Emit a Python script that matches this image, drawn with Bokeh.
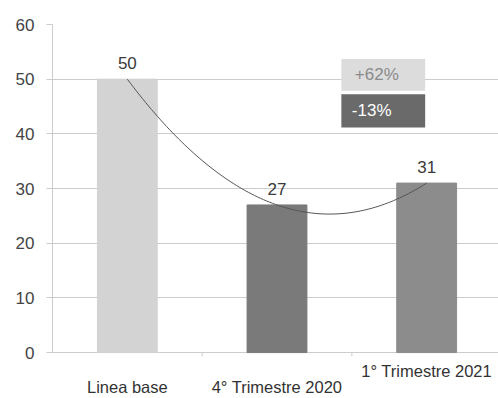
import numpy as np
from bokeh.plotting import figure
from bokeh.models import ColumnDataSource, Range1d, FixedTicker
from bokeh.core.properties import value
from bokeh.embed import file_html
from bokeh.resources import INLINE

categories = ["Linea base", "4° Trimestre 2020", "1° Trimestre 2021"]
values = [50, 27, 31]
bar_colors = ["#d3d3d3", "#7a7a7a", "#8c8c8c"]
y_ticks = [0, 10, 20, 30, 40, 50, 60]
change_labels = ["+62%", "-13%"]

FONT = "Liberation Sans"
xs = list(range(len(categories)))

p = figure(width=498, height=398, output_backend="svg", toolbar_location=None,
           x_range=Range1d(-0.5, 2.48), y_range=Range1d(-8.4, 60),
           x_axis_location=None,
           min_border_left=52, min_border_right=0, min_border_top=24,
           min_border_bottom=0)
p.outline_line_color = None
p.background_fill_color = "white"
p.border_fill_color = "white"

src = ColumnDataSource(dict(x=xs, top=values, color=bar_colors,
                            label=[str(v) for v in values]))
p.vbar(x="x", top="top", bottom=0, width=0.4, color="color", source=src)

# polynomial trend line through the values
coef = np.polyfit(xs, values, 2)
tx = np.linspace(0, 2, 100)
p.line(tx, np.polyval(coef, tx), line_color="#555555", line_width=1)

# value labels
p.text(x="x", y="top", text="label", source=src, y_offset=-10,
       text_align="center", text_baseline="bottom", text_font_size="17px",
       text_color="#3a3a3a", text_font=value(FONT))

# category boundary ticks on the baseline
bx = [i + 0.5 for i in xs[:-1]]
p.segment(x0=bx, y0=[0] * len(bx), x1=bx, y1=[-0.7] * len(bx),
          line_color="#cccccc", line_width=1)

# category labels (staggered)
p.text(x=xs, y=[-6.3, -6.3, -3.4], text=categories, text_align="center",
       text_baseline="middle", text_font_size="16.5px", text_color="#333333",
       text_font=value(FONT))

# change boxes
box_x = [1.71, 1.71]
box_y = [50.8, 44.2]
box_fill = ["#dcdcdc", "#6a6a6a"]
box_text = ["#8a8a8a", "#ffffff"]
p.rect(x=box_x, y=box_y, width=0.56, height=[5.8, 6.1], fill_color=box_fill,
       line_color=None)
p.text(x=[1.52, 1.5], y=box_y, text=change_labels, text_align="left",
       text_baseline="middle", text_font_size="17px", text_color=box_text,
       text_font=value(FONT))

p.xgrid.visible = False
p.ygrid.grid_line_color = "#cccccc"
p.ygrid.bounds = (0, 60)
p.yaxis.ticker = FixedTicker(ticks=y_ticks)
p.yaxis.bounds = (0, 60)
p.yaxis.axis_line_color = "#cccccc"
p.yaxis.major_tick_line_color = "#cccccc"
p.yaxis.major_tick_out = 6
p.yaxis.major_tick_in = 0
p.yaxis.minor_tick_line_color = None
p.yaxis.major_label_standoff = 12
p.yaxis.major_label_text_font = FONT
p.yaxis.major_label_text_font_size = "17px"
p.yaxis.major_label_text_color = "#444444"

open("out.html", "w").write(file_html(p, INLINE))
